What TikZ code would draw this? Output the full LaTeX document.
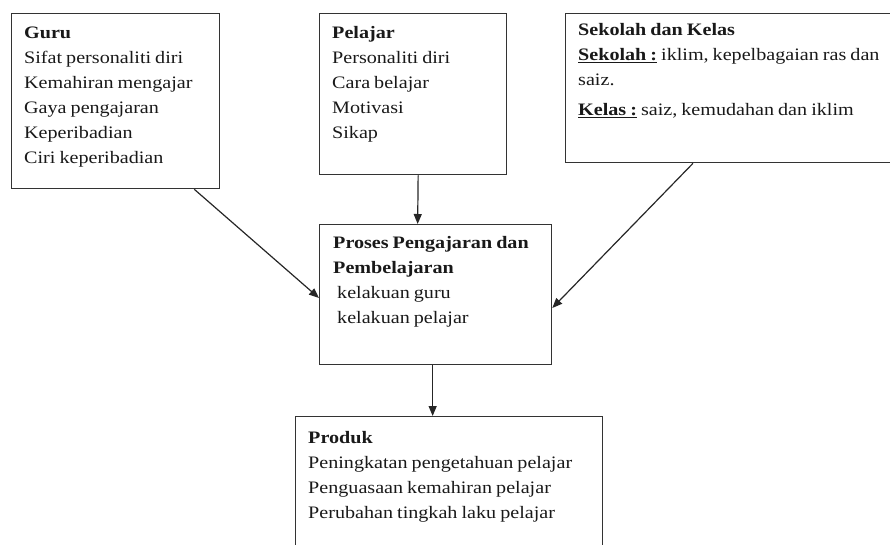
\documentclass[tikz,border=0pt]{standalone}
\usepackage{fontspec}
\setmainfont{Liberation Serif}[FakeStretch=1.15, WordSpace=0.8]
\usetikzlibrary{arrows.meta, positioning}
\tikzset{
    framebox/.style={rectangle, draw=black!80, line width=1.3pt, anchor=north west, inner sep=0pt},
    boxtext/.style={anchor=north west, align=left, inner sep=0pt, text=black!90,
                    font=\fontsize{17.5}{25}\selectfont},
    arrow/.style={-{Triangle[length=10pt, width=8pt]}, line width=1.2pt, black!85},
}

\begin{document}
\begin{tikzpicture}[x=1pt, y=-1pt]
    \clip (0,0) rectangle (890,544);
    % kotak
    \node[framebox, minimum width=208pt, minimum height=175pt] (guru) at (11,13) {};
    \node[framebox, minimum width=187pt, minimum height=161pt] (pelajar) at (319,13) {};
    \node[framebox, minimum width=345pt, minimum height=149pt] (sekolah) at (565,13) {};
    \node[framebox, minimum width=232pt, minimum height=140pt] (proses) at (319,224) {};
    \node[framebox, minimum width=307pt, minimum height=150pt] (produk) at (295,416) {};

    % teks
    \node[boxtext] (guru-txt) at (24,27) {\textbf{Guru}\\ Sifat personaliti diri\\ Kemahiran mengajar\\
        Gaya pengajaran\\ Keperibadian\\ Ciri keperibadian};
    \node[boxtext] (pelajar-txt) at (332,26) {\textbf{Pelajar}\\ Personaliti diri\\ Cara belajar\\ Motivasi\\ Sikap};
    \node[boxtext] (sekolah-txt) at (578,23) {\textbf{Sekolah dan Kelas}\\
        \underline{\textbf{Sekolah :}} iklim, kepelbagaian ras dan\\ saiz.\\[5pt]
        \underline{\textbf{Kelas :}} saiz, kemudahan dan iklim};
    \node[boxtext] (proses-txt) at (333,236) {\textbf{Proses Pengajaran dan}\\ \textbf{Pembelajaran}\\
        \hspace*{4pt}kelakuan guru\\ \hspace*{4pt}kelakuan pelajar};
    \node[boxtext] (produk-txt) at (308,431) {\textbf{Produk}\\ Peningkatan pengetahuan pelajar\\
        Penguasaan kemahiran pelajar\\ Perubahan tingkah laku pelajar};

    % anak panah
    \draw[arrow] ([xshift=-26pt]guru.south east) -- ([yshift=-74pt]proses.north west);
    \draw[arrow] ([xshift=5pt]pelajar.south) -- ([xshift=-18pt]proses.north);
    \draw[arrow] ([xshift=128pt]sekolah.south west) -- ([yshift=-84pt]proses.north east);
    \draw[arrow] ([xshift=-3pt]proses.south) -- ([xshift=-16.5pt]produk.north);
\end{tikzpicture}
\end{document}
